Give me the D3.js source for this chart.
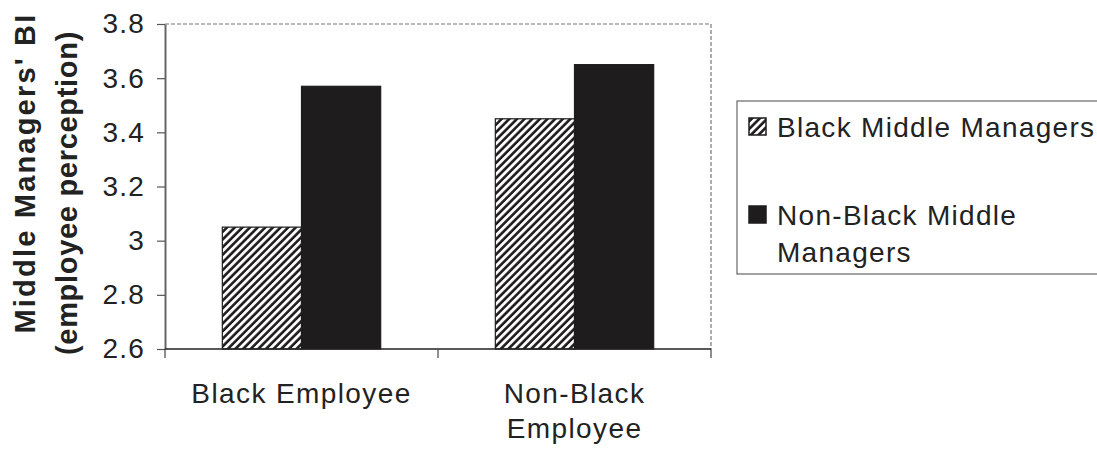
<!DOCTYPE html>
<html>
<head>
<meta charset="utf-8">
<script src="https://cdn.jsdelivr.net/npm/d3@7"></script>
<style>
  body { margin: 0; background: #fff; }
  svg text { font-family: "Liberation Sans", Arial, sans-serif; fill: #222; }
</style>
</head>
<body>
<svg id="chart"></svg>
<script>
var categories = ["Black Employee", "Non-Black Employee"];
var categoryLines = [["Black Employee"], ["Non-Black", "Employee"]];
var seriesNames = ["Black Middle Managers", "Non-Black Middle Managers"];
var blackManagers = [3.05, 3.45];
var nonBlackManagers = [3.57, 3.65];
var yTicks = [2.6, 2.8, 3, 3.2, 3.4, 3.6, 3.8];

var width = 1097;
var height = 449;
var margin = { left: 165, top: 24 };
var plotW = 546;
var plotH = 325;

var svg = d3.select("#chart")
    .attr("width", width)
    .attr("height", height);

var defs = svg.append("defs");
var hatch = defs.append("pattern")
    .attr("id", "hatch")
    .attr("patternUnits", "userSpaceOnUse")
    .attr("width", 5.4)
    .attr("height", 5.4)
    .attr("patternTransform", "rotate(45)");
hatch.append("rect")
    .attr("width", 5.4)
    .attr("height", 5.4)
    .attr("fill", "#fff");
hatch.append("line")
    .attr("x1", 1.4).attr("y1", 0)
    .attr("x2", 1.4).attr("y2", 5.4)
    .attr("stroke", "#1e1c1d")
    .attr("stroke-width", 2.6);

var fills = ["url(#hatch)", "#1e1c1d"];

var g = svg.append("g")
    .attr("transform", "translate(" + margin.left + "," + margin.top + ")");

var x0 = d3.scaleBand()
    .domain(categories)
    .range([0, plotW])
    .paddingInner(0.42)
    .paddingOuter(0.21);

var x1 = d3.scaleBand()
    .domain(seriesNames)
    .range([0, x0.bandwidth()]);

var y = d3.scaleLinear()
    .domain([2.6, 3.8])
    .range([plotH, 0]);

// plot border (top / right, dashed grey like the scan)
g.append("path")
    .attr("d", "M0,0H" + plotW + "V" + plotH)
    .attr("fill", "none")
    .attr("stroke", "#777")
    .attr("stroke-width", 1.2)
    .attr("stroke-dasharray", "4,2");

var rows = [];
for (var i = 0; i < categories.length; i++) {
    rows.push({
        cat: categories[i],
        values: [blackManagers[i], nonBlackManagers[i]]
    });
}

var groups = g.selectAll(".grp")
    .data(rows)
    .enter()
    .append("g")
    .attr("class", "grp")
    .attr("transform", function (d) {
        return "translate(" + x0(d.cat) + ",0)";
    });

groups.selectAll("rect")
    .data(function (d) {
        return d.values.map(function (v, j) {
            return { name: seriesNames[j], value: v, idx: j };
        });
    })
    .enter()
    .append("rect")
    .attr("x", function (d) { return x1(d.name); })
    .attr("y", function (d) { return y(d.value); })
    .attr("width", x1.bandwidth())
    .attr("height", function (d) { return plotH - y(d.value); })
    .attr("fill", function (d) { return fills[d.idx]; })
    .attr("stroke", "#1e1c1d")
    .attr("stroke-width", 1.2);

// y axis
var yAxis = g.append("g")
    .call(d3.axisLeft(y)
        .tickValues(yTicks)
        .tickSize(8)
        .tickSizeOuter(0)
        .tickPadding(12)
        .tickFormat(function (d) { return String(d); }));
yAxis.select(".domain").attr("stroke", "#666").attr("stroke-width", 2);
yAxis.selectAll(".tick line").attr("stroke", "#555").attr("stroke-width", 1.2);
yAxis.selectAll(".tick text")
    .attr("font-size", 28)
    .attr("letter-spacing", 1.2)
    .attr("fill", "#222");

// x axis
var xAxis = g.append("g")
    .attr("transform", "translate(0," + plotH + ")");
xAxis.append("line")
    .attr("x1", 0).attr("x2", plotW)
    .attr("stroke", "#222")
    .attr("stroke-width", 1.6);
var bounds = [0, x0.step() * (0.21 + 0.5) + x0.step() * 0.29, plotW];
xAxis.selectAll(".xt")
    .data([0, plotW / 2, plotW])
    .enter()
    .append("line")
    .attr("x1", function (d) { return d; })
    .attr("x2", function (d) { return d; })
    .attr("y1", 0).attr("y2", 9)
    .attr("stroke", "#444")
    .attr("stroke-width", 1.2);

var labels = xAxis.selectAll(".xl")
    .data(categories)
    .enter()
    .append("text")
    .attr("class", "xl")
    .attr("text-anchor", "middle")
    .attr("font-size", 28)
    .attr("letter-spacing", 1.4)
    .attr("transform", function (d) {
        return "translate(" + (x0(d) + x0.bandwidth() / 2) + ",0)";
    });
labels.each(function (d, i) {
    var t = d3.select(this);
    categoryLines[i].forEach(function (line, k) {
        t.append("tspan")
            .attr("x", 0)
            .attr("y", 54 + k * 35)
            .text(line);
    });
});

// y title
var title = svg.append("g");
title.append("text")
    .attr("transform", "translate(35,173) rotate(-90)")
    .attr("text-anchor", "middle")
    .attr("font-size", 29)
    .attr("font-weight", "bold")
    .attr("letter-spacing", 2.2)
    .text("Middle Managers' BI");
title.append("text")
    .attr("transform", "translate(77,193) rotate(-90)")
    .attr("text-anchor", "middle")
    .attr("font-size", 29)
    .attr("font-weight", "bold")
    .attr("letter-spacing", 0.7)
    .text("(employee perception)");

// legend
var legend = svg.append("g")
    .attr("transform", "translate(737,101)");
legend.append("rect")
    .attr("width", 380)
    .attr("height", 173)
    .attr("fill", "#fff")
    .attr("stroke", "#666")
    .attr("stroke-width", 1.2);

var legendRows = [
    { lines: ["Black Middle Managers"], y: 17 },
    { lines: ["Non-Black Middle", "Managers"], y: 105 }
];
legendRows.forEach(function (r, i) {
    legend.append("rect")
        .attr("x", 12)
        .attr("y", r.y)
        .attr("width", 17)
        .attr("height", 17)
        .attr("fill", fills[i])
        .attr("stroke", "#1e1c1d")
        .attr("stroke-width", 1.5);
    var t = legend.append("text")
        .attr("font-size", 28)
        .attr("letter-spacing", 1.3);
    r.lines.forEach(function (line, k) {
        t.append("tspan")
            .attr("x", 40)
            .attr("y", r.y + 19 + k * 37)
            .text(line);
    });
});
</script>
</body>
</html>
